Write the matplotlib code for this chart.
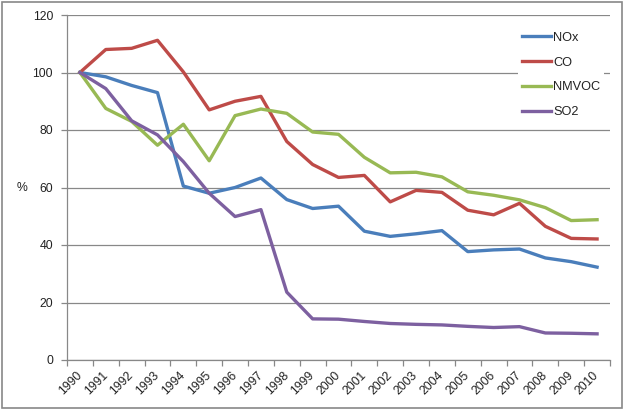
import matplotlib
matplotlib.use("Agg")
import matplotlib.pyplot as plt
from matplotlib.patches import Rectangle

years = [str(y) for y in range(1990, 2011)]
nox = [100, 98.5, 95.5, 93, 60.5, 58, 60, 63.3, 55.8, 52.7, 53.5, 44.8, 43, 43.9, 45, 37.7, 38.3, 38.6, 35.5, 34.2, 32.3]
co = [100, 108, 108.4, 111.2, 100.2, 87, 90, 91.7, 76, 68, 63.5, 64.2, 55, 59, 58.3, 52.1, 50.5, 54.5, 46.5, 42.3, 42.1]
nmvoc = [100, 87.5, 83, 74.7, 82, 69.3, 85, 87.3, 85.8, 79.3, 78.5, 70.5, 65.1, 65.3, 63.7, 58.5, 57.3, 55.7, 53, 48.5, 48.8]
so2 = [100, 94.4, 83.2, 78.3, 69, 58, 49.9, 52.3, 23.6, 14.3, 14.2, 13.4, 12.7, 12.4, 12.2, 11.7, 11.3, 11.6, 9.4, 9.3, 9.1]
series_names = ["NOx", "CO", "NMVOC", "SO2"]
colors = ["#4A7EBB", "#BE4B48", "#98B954", "#7D60A0"]
yticks = [0, 20, 40, 60, 80, 100, 120]

plt.rcParams['font.family'] = ['Liberation Sans', 'DejaVu Sans']
W, H = 626, 409
fig = plt.figure(figsize=(W / 100, H / 100), dpi=100)
ax = fig.add_axes([67 / W, 1 - 360 / H, (610 - 67) / W, (360 - 15) / H])

x = list(range(len(years)))
for data, name, c in zip([nox, co, nmvoc, so2], series_names, colors):
    ax.plot(x, data, color=c, lw=2.4, label=name, solid_joinstyle='round', zorder=3)

gc = "#888888"
fs = 8.8
ax.set_ylim(0, 120)
ax.set_yticks(yticks)
ax.set_yticklabels([str(v) for v in yticks])
ax.grid(axis='y', color=gc, lw=0.9, zorder=0)
ax.set_xlim(-0.5, len(years) - 0.5)
ax.set_xticks([i - 0.5 for i in range(len(years) + 1)])
ax.set_xticklabels([])
ax.set_xticks(x, minor=True)
ax.set_xticklabels(years, minor=True, rotation=45, ha='right', va='center',
                   rotation_mode='anchor', fontsize=fs, color='#222222')
ax.tick_params(axis='x', which='minor', length=0, pad=10)
ax.tick_params(axis='x', which='major', length=4, color=gc, width=0.9)
ax.tick_params(axis='y', length=4, color=gc, width=0.9, pad=6, labelsize=fs, labelcolor='#222222')
for s in ['top', 'right']:
    ax.spines[s].set_visible(False)
for s in ['left', 'bottom']:
    ax.spines[s].set_color(gc)
    ax.spines[s].set_linewidth(0.9)

fig.text(22 / W, 1 - 188 / H, "%", fontsize=fs, ha='center', va='center', color='#222222')

leg = ax.legend(loc='upper left', bbox_to_anchor=(518 / W, 1 - 28 / H), bbox_transform=fig.transFigure,
                frameon=True, fancybox=False, edgecolor='none', facecolor='white', framealpha=1,
                fontsize=9.2, handlelength=2.3, handletextpad=0.15, labelspacing=1.0, borderpad=0.3,
                borderaxespad=0)
for t in leg.get_texts():
    t.set_color('#222222')

fig.patches.append(Rectangle((1.5 / W, 1.5 / H), (622 - 1.5) / W, (407 - 1.5) / H, transform=fig.transFigure,
                             fill=False, edgecolor='#888888', lw=1.2))
fig.savefig("out.png", dpi=100)
